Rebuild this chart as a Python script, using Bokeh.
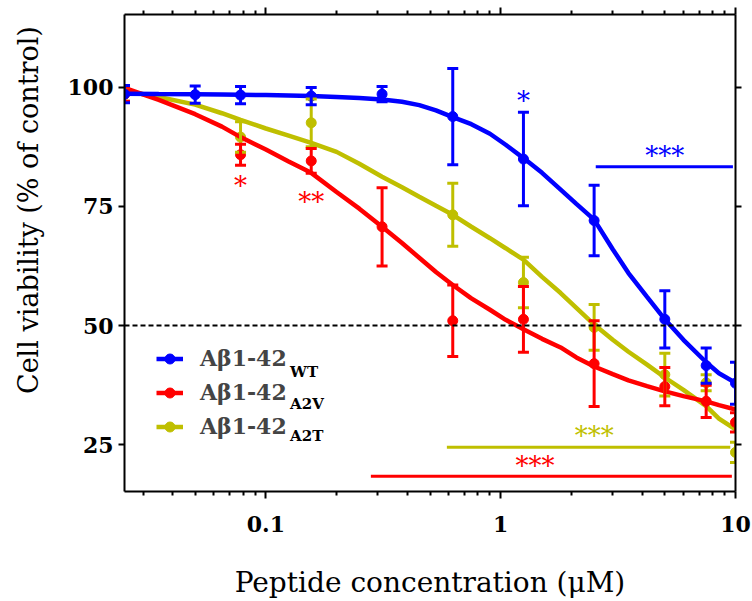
import numpy as np
from bokeh.plotting import figure
from bokeh.models import (ColumnDataSource, Whisker, TeeHead, LogAxis, LinearAxis,
                          FixedTicker, Span, Legend, LegendItem, Label, Range1d)
from bokeh.embed import file_html
from bokeh.resources import INLINE
from bokeh.core.properties import value

FONT = "DejaVu Serif"

# ---------------- data ----------------
conc_wt = [0.025, 0.05, 0.078, 0.156, 0.3125, 0.625, 1.25, 2.5, 5, 7.5, 10]
via_wt = [98.5, 98.4, 98.3, 98.1, 98.5, 93.8, 84.9, 72.0, 51.3, 41.6, 37.9]
err_wt = [1.8, 1.8, 1.8, 1.8, 1.6, 10.1, 9.8, 7.4, 6.0, 3.7, 4.4]

conc_a2v = [0.025, 0.078, 0.156, 0.3125, 0.625, 1.25, 2.5, 5, 7.5, 10]
via_a2v = [98.5, 85.8, 84.5, 70.7, 51.0, 51.3, 42.0, 37.2, 34.1, 29.7]
err_a2v = [1.5, 2.2, 2.6, 8.2, 7.5, 6.9, 9.0, 4.0, 3.4, 2.0]

conc_a2t = [0.025, 0.078, 0.156, 0.625, 1.25, 2.5, 5, 7.5, 10]
via_a2t = [98.5, 89.5, 92.5, 73.2, 59.0, 49.6, 39.7, 38.0, 23.4]
err_a2t = [1.5, 3.2, 5.0, 6.6, 5.3, 4.8, 4.5, 1.7, 2.1]

# fitted curves at these concentrations
fit_conc = [0.025, 0.035, 0.05, 0.065, 0.078, 0.1, 0.125, 0.156, 0.2, 0.25,
            0.3125, 0.38, 0.45, 0.53, 0.625, 0.75, 0.9, 1.05, 1.25, 1.5,
            1.8, 2.1, 2.5, 3.0, 3.5, 4.2, 5, 6, 7.5, 8.5, 10]
fit_wt = [98.6, 98.55, 98.5, 98.45, 98.4, 98.3, 98.2, 98.1, 97.9, 97.7,
          97.4, 96.9, 96.2, 95.1, 93.7, 92.2, 90.2, 87.9, 85.1, 82.0,
          78.5, 75.5, 72.2, 66.0, 61.0, 56.0, 51.3, 47.0, 42.3, 40.0, 38.0]
fit_a2v = [99.8, 97.3, 94.3, 91.7, 89.5, 86.9, 84.4, 82.0, 78.0, 74.5,
           70.7, 67.3, 64.2, 61.2, 58.5, 55.7, 53.3, 51.2, 49.2, 47.2,
           45.4, 43.3, 41.4, 39.8, 38.5, 37.3, 36.2, 35.2, 34.1, 33.3, 32.4]
fit_a2t = [99.2, 97.9, 96.3, 94.5, 93.1, 91.3, 89.8, 88.3, 86.4, 83.9,
           81.2, 79.0, 77.0, 75.1, 73.2, 70.7, 68.3, 66.2, 63.8, 60.2,
           56.8, 53.7, 50.2, 47.0, 44.5, 41.8, 39.1, 36.5, 33.1, 30.5, 28.2]

# significance bars and marks
sig_x0 = [2.54, 0.59, 0.28]
sig_x1 = [9.75, 9.5, 9.65]
sig_y = [83.3, 24.5, 18.4]
sig_tx = [5.0, 2.5, 1.4]
sig_ty = [86.4, 27.6, 21.3]
star_x = [1.25, 0.078, 0.156]
star_y = [97.9, 80.1, 76.8]
star_text = ["*", "*", "**"]

x_major = [0.1, 1, 10]
x_minor = [0.03, 0.04, 0.05, 0.06, 0.07, 0.08, 0.09,
           0.2, 0.3, 0.4, 0.5, 0.6, 0.7, 0.8, 0.9,
           2, 3, 4, 5, 6, 7, 8, 9]
y_major = [25, 50, 75, 100]

BLUE, RED, OLIVE = "#0000FF", "#FF0000", "#BFBF00"

p = figure(width=752, height=601, x_axis_type="log",
           x_range=Range1d(0.025, 10), y_range=Range1d(15.2, 115.2),
           output_backend="svg", toolbar_location=None,
           min_border_left=124, min_border_right=17,
           min_border_top=14, min_border_bottom=108)
p.outline_line_color = None
p.xgrid.visible = False
p.ygrid.visible = False
p.background_fill_color = "white"
p.border_fill_color = "white"

xt = FixedTicker(ticks=x_major, minor_ticks=x_minor)
yt = FixedTicker(ticks=y_major, minor_ticks=[])

def style_axis(ax, tick_out, label_size):
    ax.axis_line_width = 2
    ax.axis_line_color = "black"
    ax.major_tick_line_width = 2
    ax.minor_tick_line_width = 2
    ax.major_tick_in = 0
    ax.minor_tick_in = 0
    ax.major_tick_out = tick_out
    ax.minor_tick_out = 4
    ax.major_label_text_font = FONT
    ax.major_label_text_font_style = "bold"
    ax.major_label_text_font_size = "22px"
    ax.major_label_text_color = "black"
    ax.axis_label_text_font = FONT
    ax.axis_label_text_font_style = "normal"
    ax.axis_label_text_font_size = label_size
    ax.axis_label_text_color = "black"

xa = p.xaxis[0]
xa.ticker = xt
xa.major_label_overrides = {0.1: "0.1", 1: "1", 10: "10"}
style_axis(xa, 7, "28px")
xa.major_label_standoff = 17
xa.axis_label = "Peptide concentration (\u03bcM)"
xa.axis_label_standoff = 31

ya = p.yaxis[0]
ya.ticker = yt
style_axis(ya, 6, "27px")
ya.major_label_standoff = 5
# leading no-break spaces lift the title above the frame centre, as in the reference
ya.axis_label = "\u00a0" * 10 + "Cell viability (% of control)"
ya.axis_label_standoff = 21

top = LogAxis(ticker=xt)
style_axis(top, 7, "20px")
top.major_label_text_font_size = "2px"
top.major_label_text_alpha = 0
top.major_label_standoff = 0
p.add_layout(top, "above")

right = LinearAxis(ticker=yt)
style_axis(right, 6, "20px")
right.minor_tick_out = 0
right.major_label_text_font_size = "2px"
right.major_label_text_alpha = 0
right.major_label_standoff = 0
p.add_layout(right, "right")

p.add_layout(Span(location=50, dimension="width", line_color="black",
                  line_width=1.8, line_dash="5 3"))

series = [
    ("A2T", conc_a2t, via_a2t, err_a2t, fit_a2t, OLIVE),
    ("A2V", conc_a2v, via_a2v, err_a2v, fit_a2v, RED),
    ("WT", conc_wt, via_wt, err_wt, fit_wt, BLUE),
]
rend = {}
for name, cx, cy, ce, fy, col in series:
    src = ColumnDataSource(dict(x=cx, y=cy,
                                upper=[a + b for a, b in zip(cy, ce)],
                                lower=[a - b for a, b in zip(cy, ce)]))
    w = Whisker(source=src, base="x", upper="upper", lower="lower",
                line_color=col, line_width=3, level="glyph",
                upper_head=TeeHead(size=11, line_color=col, line_width=3),
                lower_head=TeeHead(size=11, line_color=col, line_width=3))
    p.add_layout(w)
    lr = p.line(fit_conc, fy, line_color=col, line_width=4.5)
    sr = p.scatter("x", "y", source=src, size=10, color=col, marker="circle")
    rend[name] = (lr, sr)

sig_cols = [BLUE, OLIVE, RED]
p.segment(x0=sig_x0, y0=sig_y, x1=sig_x1, y1=sig_y, line_color=sig_cols, line_width=3)
p.text(x=sig_tx, y=sig_ty, text=["***", "***", "***"], text_color=sig_cols,
       text_font=value(FONT), text_font_size="26px", y_offset=4,
       text_align="center", text_baseline="middle")
p.text(x=star_x, y=star_y, text=star_text, text_color=[BLUE, RED, RED],
       text_font=value(FONT), text_font_size="26px", y_offset=4,
       text_align="center", text_baseline="middle")

legend = Legend(items=[LegendItem(label="A\u03b21-42", renderers=list(rend["WT"])),
                       LegendItem(label="A\u03b21-42", renderers=list(rend["A2V"])),
                       LegendItem(label="A\u03b21-42", renderers=list(rend["A2T"]))],
                location=(32, 52), label_text_font=FONT, label_text_font_style="bold",
                label_text_font_size="22px", glyph_width=27, glyph_height=25,
                label_height=25, spacing=8, label_standoff=17, padding=0, margin=0,
                border_line_color=None, background_fill_alpha=0)
p.add_layout(legend)

sub_text = ["WT", "A2V", "A2T"]
sub_y = [40.2, 33.6, 26.8]
for t, yy in zip(sub_text, sub_y):
    p.add_layout(Label(x=0.1268, y=yy, text=t, text_font=FONT, text_font_style="bold",
                       text_font_size="15px", text_color="black",
                       text_baseline="alphabetic"))

open("out.html", "w").write(file_html(p, INLINE))
